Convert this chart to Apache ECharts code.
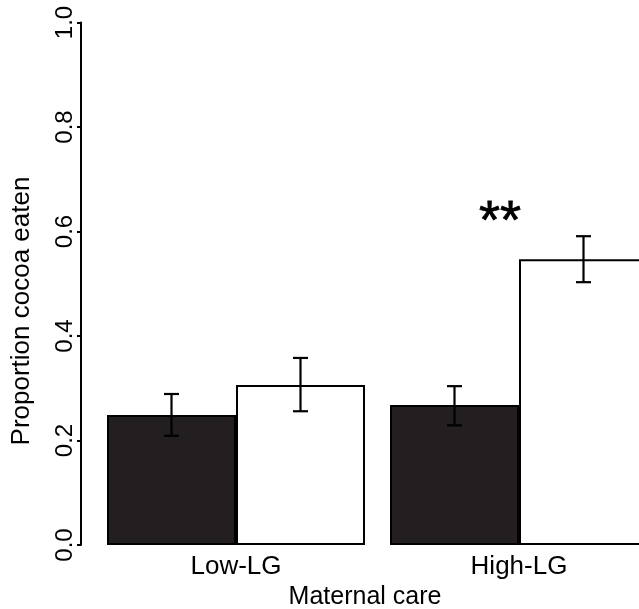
<!DOCTYPE html>
<html>
<head>
<meta charset="utf-8">
<script src="https://cdn.jsdelivr.net/npm/echarts@6/dist/echarts.min.js"></script>
<style>html,body{margin:0;padding:0;background:#fff;}#c{width:639px;height:609px;}</style>
</head>
<body>
<div id="c"></div>
<script>
// ---- data ----
const categories = ['Low-LG', 'High-LG'];
const darkValues = [0.249, 0.268];
const whiteValues = [0.306, 0.547];
const darkErrLow = [0.209, 0.229];
const darkErrHigh = [0.289, 0.304];
const whiteErrLow = [0.256, 0.503];
const whiteErrHigh = [0.358, 0.591];
const yTicks = [0.0, 0.2, 0.4, 0.6, 0.8, 1.0];
const sigCategory = 'High-LG';
const sigValue = 0.635;
const sigText = '**';

// ---- style ----
const FONT = 'Liberation Sans, Arial, Helvetica, sans-serif';
const BAR_W = 129;
const CAP_W = 15;

function errData(lo, hi) {
  return categories.map((c, i) => [i, lo[i], hi[i]]);
}
function errSeries(lo, hi, sign) {
  return {
    type: 'custom',
    z: 5,
    data: errData(lo, hi),
    encode: { x: 0, y: [1, 2] },
    renderItem: function (params, api) {
      const i = api.value(0);
      const pLo = api.coord([i, api.value(1)]);
      const pHi = api.coord([i, api.value(2)]);
      const x = pLo[0] + sign * BAR_W / 2;
      const st = { stroke: '#000', lineWidth: 2.2 };
      return {
        type: 'group',
        children: [
          { type: 'line', shape: { x1: x, y1: pLo[1], x2: x, y2: pHi[1] }, style: st },
          { type: 'line', shape: { x1: x - CAP_W / 2, y1: pLo[1], x2: x + CAP_W / 2, y2: pLo[1] }, style: st },
          { type: 'line', shape: { x1: x - CAP_W / 2, y1: pHi[1], x2: x + CAP_W / 2, y2: pHi[1] }, style: st }
        ]
      };
    }
  };
}

const chart = echarts.init(document.getElementById('c'), null, { renderer: 'canvas' });
chart.setOption({
  backgroundColor: '#fff',
  animation: false,
  grid: { left: 94.5, width: 566, top: 22.5, bottom: 64, containLabel: false, outerBoundsMode: 'none' },
  xAxis: {
    type: 'category',
    data: categories,
    axisLine: { show: false },
    axisTick: { show: false },
    axisLabel: { color: '#000', fontSize: 26, fontFamily: FONT, margin: 9 },
    splitLine: { show: false }
  },
  yAxis: {
    type: 'value',
    min: 0, max: 1, interval: 0.2,
    offset: 13.5,
    axisLine: { show: true, lineStyle: { color: '#000', width: 2 } },
    axisTick: { show: true, length: 4, lineStyle: { color: '#000', width: 2 } },
    axisLabel: {
      color: '#000', fontSize: 24, fontFamily: FONT, rotate: 90, margin: 4,
      formatter: v => yTicks.some(t => Math.abs(t - v) < 1e-9) ? v.toFixed(1) : ''
    },
    splitLine: { show: false }
  },
  graphic: [
    {
      type: 'text', x: 22, y: 311, rotation: Math.PI / 2,
      style: { text: 'Proportion cocoa eaten', fill: '#000', font: '26px ' + FONT, textAlign: 'center', textVerticalAlign: 'middle' }
    },
    {
      type: 'text', x: 365, y: 597,
      style: { text: 'Maternal care', fill: '#000', font: '25px ' + FONT, textAlign: 'center', textVerticalAlign: 'middle' }
    }
  ],
  series: [
    {
      name: 'Dark', type: 'bar', data: darkValues, barWidth: BAR_W, barGap: '0%',
      itemStyle: { color: '#231f20', borderColor: '#000', borderWidth: 2 }
    },
    {
      name: 'White', type: 'bar', data: whiteValues, barWidth: BAR_W, barGap: '0%',
      itemStyle: { color: '#fff', borderColor: '#000', borderWidth: 2 }
    },
    errSeries(darkErrLow, darkErrHigh, -1),
    errSeries(whiteErrLow, whiteErrHigh, 1),
    {
      type: 'scatter', symbolSize: 1, itemStyle: { color: '#fff', opacity: 1 },
      data: [[sigCategory, sigValue]],
      label: {
        show: true, position: 'inside', offset: [-19, 10], formatter: sigText,
        color: '#000', opacity: 1, textBorderWidth: 0.8, textBorderColor: '#000',
        fontSize: 54, fontFamily: FONT
      }
    }
  ]
});
</script>
</body>
</html>
